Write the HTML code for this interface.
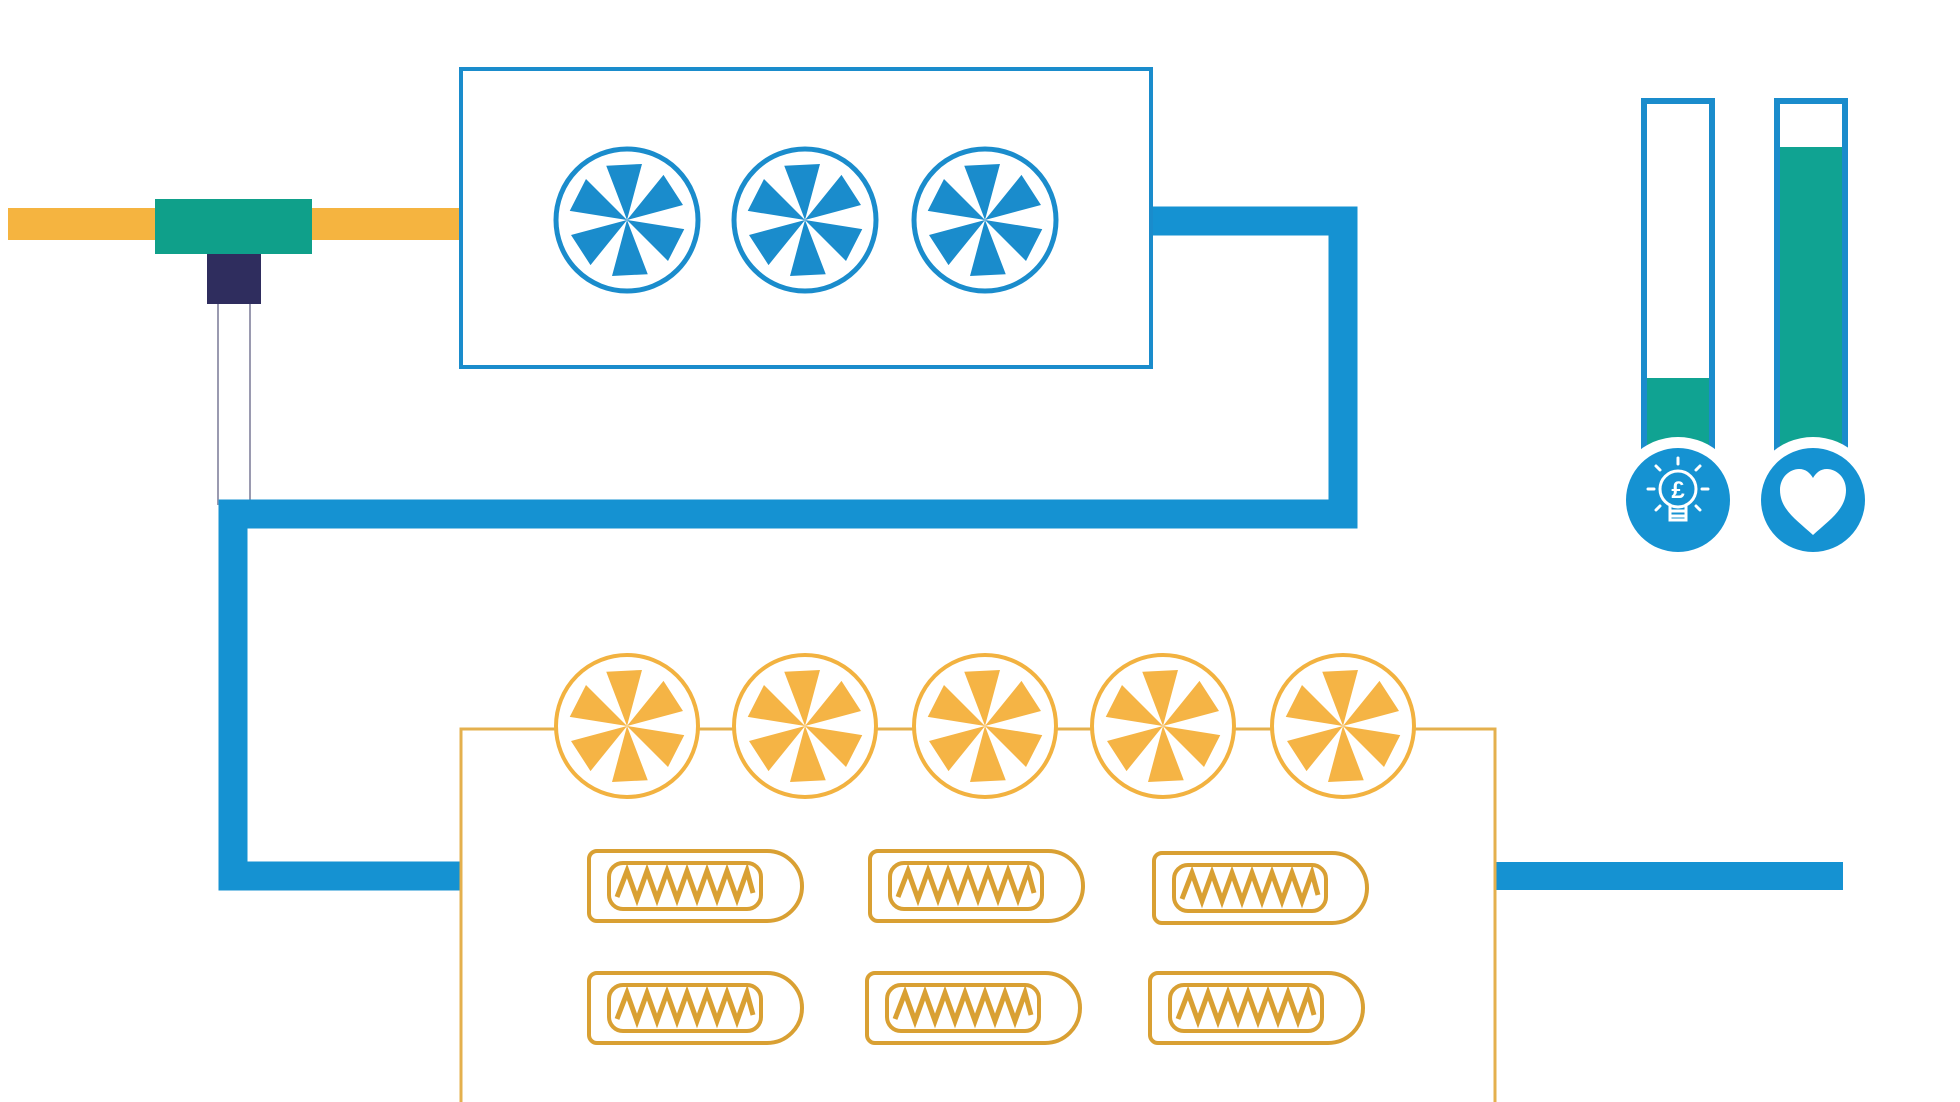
<!DOCTYPE html>
<html><head><meta charset="utf-8"><style>html,body{margin:0;padding:0;background:#fff;}svg{display:block}</style></head>
<body>
<svg width="1960" height="1102" viewBox="0 0 1960 1102" xmlns="http://www.w3.org/2000/svg">
<defs>
<g id="blades">
<path d="M0,0 L-17.9,-55.2 L17.9,-55.2 Z M0,0 L38.8,-43.1 L56.7,-12.1 Z M0,0 L56.7,12.1 L38.8,43.1 Z M0,0 L17.9,55.2 L-17.9,55.2 Z M0,0 L-38.8,43.1 L-56.7,12.1 Z M0,0 L-56.7,-12.1 L-38.8,-43.1 Z"/>
</g>
<g id="fanB">
<circle r="71" fill="#fff" stroke="#1a8ccc" stroke-width="5"/>
<use href="#blades" fill="#1a8ccc" transform="rotate(-3)"/>
</g>
<g id="fanO">
<circle r="71" fill="#fff" stroke="#f2b240" stroke-width="4"/>
<use href="#blades" fill="#f5b445" transform="rotate(-3)"/>
</g>
<g id="heater" fill="none" stroke="#d9a033" stroke-width="4">
<path d="M10,2 H180 A35,35 0 0 1 180,72 H10 A8,8 0 0 1 2,64 V10 A8,8 0 0 1 10,2 Z"/>
<rect x="22" y="14" width="152" height="46" rx="14"/>
<polyline stroke-width="5" points="30,48 40,22 50,50 60,22 70,50 80,22 90,50 100,22 110,50 120,22 130,50 140,22 150,50 160,22 166,44"/>
</g>
</defs>

<rect x="8" y="208" width="452" height="32" fill="#f5b440"/>
<line x1="218" y1="304" x2="218" y2="505" stroke="#9a9ab0" stroke-width="2"/>
<line x1="250" y1="304" x2="250" y2="505" stroke="#9a9ab0" stroke-width="2"/>
<rect x="155" y="199" width="157" height="55" fill="#0fa08a"/>
<rect x="207" y="254" width="54" height="50" fill="#2f2d5e"/>

<path d="M1150,221 H1343 V514 H233 V876 H462" fill="none" stroke="#1592d2" stroke-width="29" stroke-linejoin="miter"/>
<rect x="1495" y="862" width="348" height="28" fill="#1592d2"/>

<rect x="461" y="69" width="690" height="298" fill="#fff" stroke="#1a8ccc" stroke-width="4"/>
<use href="#fanB" x="627" y="220"/>
<use href="#fanB" x="805" y="220"/>
<use href="#fanB" x="985" y="220"/>

<path d="M461,1104 V729 H1495 V1104" fill="#fff" stroke="#e4b04e" stroke-width="3"/>
<use href="#fanO" x="627" y="726"/>
<use href="#fanO" x="805" y="726"/>
<use href="#fanO" x="985" y="726"/>
<use href="#fanO" x="1163" y="726"/>
<use href="#fanO" x="1343" y="726"/>

<use href="#heater" x="587" y="849"/>
<use href="#heater" x="868" y="849"/>
<use href="#heater" x="1152" y="851"/>
<use href="#heater" x="587" y="971"/>
<use href="#heater" x="865" y="971"/>
<use href="#heater" x="1148" y="971"/>

<rect x="1644" y="101" width="68" height="350" fill="#fff" stroke="#1a8ccc" stroke-width="6"/>
<rect x="1647" y="378" width="62" height="72" fill="#10a392"/>
<rect x="1777" y="101" width="68" height="350" fill="#fff" stroke="#1a8ccc" stroke-width="6"/>
<rect x="1780" y="147" width="62" height="303" fill="#10a392"/>
<circle cx="1678" cy="500" r="63" fill="#fff"/>
<circle cx="1813" cy="500" r="63" fill="#fff"/>
<circle cx="1678" cy="500" r="52" fill="#1592d2"/>
<circle cx="1813" cy="500" r="52" fill="#1592d2"/>
<g stroke="#fff" stroke-width="3" fill="none" stroke-linecap="round">
<circle cx="1678" cy="489" r="18"/>
<path d="M1670,505 V520 H1686 V505"/>
<line x1="1670" y1="511" x2="1686" y2="511"/>
<line x1="1670" y1="516" x2="1686" y2="516"/>
<line x1="1678" y1="458" x2="1678" y2="464"/>
<line x1="1656" y1="466" x2="1660" y2="470"/>
<line x1="1700" y1="466" x2="1696" y2="470"/>
<line x1="1648" y1="489" x2="1654" y2="489"/>
<line x1="1702" y1="489" x2="1708" y2="489"/>
<line x1="1656" y1="510" x2="1660" y2="506"/>
<line x1="1700" y1="510" x2="1696" y2="506"/>
</g>
<text x="1678" y="498" font-family="Liberation Sans, sans-serif" font-weight="bold" font-size="24" fill="#fff" text-anchor="middle">£</text>
<path d="M1813,535 C1798,521 1780,510 1780,490 C1780,477 1790,469 1799,469 C1806,469 1810,473 1813,478 C1816,473 1820,469 1827,469 C1836,469 1846,477 1846,490 C1846,510 1828,521 1813,535 Z" fill="#fff"/>
</svg>
</body></html>
